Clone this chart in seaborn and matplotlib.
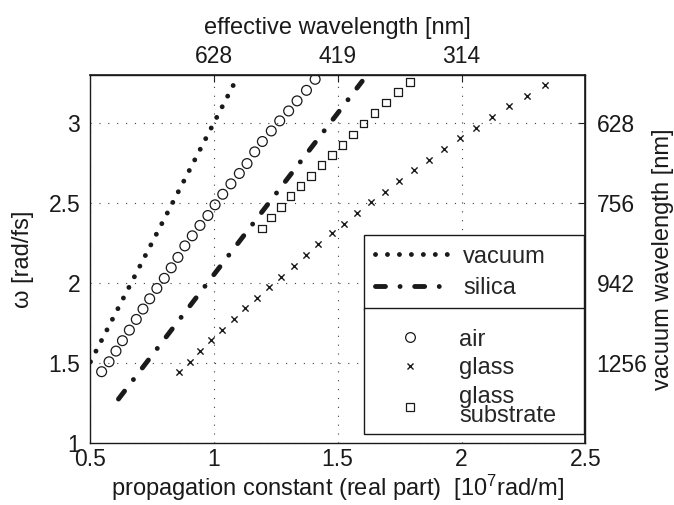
import matplotlib
matplotlib.use("Agg")
import matplotlib.pyplot as plt
import seaborn as sns
from matplotlib.lines import Line2D

# ---------------- data ----------------
vac_beta = [0.502, 1.085]
vac_omega = [1.506, 3.255]

sil_beta = [0.615, 1.599]
sil_omega = [1.273, 3.261]

air_beta = [0.547, 0.577, 0.605, 0.631, 0.659, 0.687, 0.714, 0.741, 0.770, 0.800,
            0.828, 0.855, 0.883, 0.913, 0.944, 0.976, 1.005, 1.036, 1.069, 1.103,
            1.134, 1.165, 1.196, 1.232, 1.266, 1.302, 1.336, 1.374, 1.409]
air_omega = [1.444, 1.506, 1.573, 1.638, 1.704, 1.771, 1.836, 1.900, 1.965, 2.028,
             2.094, 2.159, 2.231, 2.294, 2.359, 2.421, 2.488, 2.554, 2.619, 2.684,
             2.746, 2.819, 2.884, 2.950, 3.013, 3.075, 3.138, 3.204, 3.273]

glass_beta = [0.859, 0.902, 0.946, 0.990, 1.035, 1.080, 1.127, 1.173, 1.222, 1.270,
              1.323, 1.371, 1.422, 1.476, 1.526, 1.580, 1.635, 1.692, 1.749, 1.808,
              1.867, 1.929, 1.992, 2.058, 2.123, 2.191, 2.263, 2.336]
glass_omega = [1.444, 1.506, 1.573, 1.640, 1.706, 1.771, 1.840, 1.906, 1.971, 2.038,
               2.104, 2.172, 2.242, 2.309, 2.371, 2.438, 2.503, 2.569, 2.636, 2.704,
               2.771, 2.836, 2.903, 2.969, 3.038, 3.104, 3.169, 3.236]

sub_beta = [1.195, 1.232, 1.272, 1.310, 1.350, 1.392, 1.435, 1.476, 1.519, 1.561,
            1.604, 1.648, 1.695, 1.743, 1.792]
sub_omega = [2.340, 2.409, 2.475, 2.542, 2.606, 2.669, 2.736, 2.798, 2.861, 2.928,
             2.996, 3.063, 3.128, 3.194, 3.256]

x_ticks = [0.5, 1.0, 1.5, 2.0, 2.5]
x_ticklabels = ["0.5", "1", "1.5", "2", "2.5"]
y_ticks = [1.0, 1.5, 2.0, 2.5, 3.0]
y_ticklabels = ["1", "1.5", "2", "2.5", "3"]
top_ticks = [1.0, 1.5, 2.0]
top_labels = ["628", "419", "314"]
right_ticks = [3.0, 2.5, 2.0, 1.5]
right_labels = ["628", "756", "942", "1256"]

# ---------------- style ----------------
sns.set_theme(style="white")
plt.rcParams["font.family"] = ["Liberation Sans", "DejaVu Sans"]
plt.rcParams["mathtext.fontset"] = "custom"
plt.rcParams["mathtext.rm"] = "Liberation Sans"
plt.rcParams["mathtext.it"] = "Liberation Sans:italic"
plt.rcParams["mathtext.bf"] = "Liberation Sans:bold"

TICK_FS = 16.5
LABEL_FS = 17
LEG_FS = 17

fig = plt.figure(figsize=(6.74, 5.05), dpi=100)
ax = fig.add_axes([0.1335, 0.1234, 0.735, 0.7281])

vac_style = dict(color="k", lw=3.5, linestyle=(0, (0.01, 2.45)), dash_capstyle="round")
sil_style = dict(color="k", lw=3.5, linestyle=(0, (2.05, 3.0, 0.01, 3.0)), dash_capstyle="round")

sns.lineplot(x=vac_beta, y=vac_omega, ax=ax, estimator=None, sort=False, legend=False, **vac_style)
sns.lineplot(x=sil_beta, y=sil_omega, ax=ax, estimator=None, sort=False, legend=False, **sil_style)

sns.scatterplot(x=air_beta, y=air_omega, ax=ax, marker="o", s=50,
                facecolor="none", edgecolor="k", linewidth=0.9, legend=False, zorder=3)
sns.scatterplot(x=glass_beta, y=glass_omega, ax=ax, marker="x", s=20,
                color="k", linewidth=1.0, legend=False, zorder=3)
sns.scatterplot(x=sub_beta, y=sub_omega, ax=ax, marker="s", s=30,
                facecolor="none", edgecolor="k", linewidth=0.9, legend=False, zorder=3)

ax.set_xlim(0.5, 2.5)
ax.set_ylim(1.0, 3.3)
ax.set_xticks(x_ticks, labels=x_ticklabels)
ax.set_yticks(y_ticks, labels=y_ticklabels)
ax.tick_params(axis="x", direction="in", length=5, width=0.8, color="k", labelsize=TICK_FS,
               labelcolor="k", pad=4)
ax.tick_params(axis="y", direction="in", length=5, width=0.8, color="k", labelsize=TICK_FS,
               labelcolor="k", pad=7)
ax.grid(True, linestyle=(0, (1, 7)), color="0.25", linewidth=0.8)
for sp in ax.spines.values():
    sp.set_color("k")
    sp.set_linewidth(1.0)

ax.set_xlabel(r"propagation constant (real part)  [10$^7$rad/m]", fontsize=LABEL_FS,
              color="k", labelpad=1)
ax.set_ylabel("ω [rad/fs]", fontsize=LABEL_FS, color="k", labelpad=10)

secx = ax.secondary_xaxis("top")
secx.set_xticks(top_ticks, labels=top_labels)
secx.tick_params(direction="in", length=5, width=0.8, color="k", labelsize=TICK_FS,
                 labelcolor="k", pad=5)
secx.set_xlabel("effective wavelength [nm]", fontsize=LABEL_FS, color="k", labelpad=8)

secy = ax.secondary_yaxis("right")
secy.set_yticks(right_ticks, labels=right_labels)
secy.tick_params(direction="in", length=5, width=0.8, color="k", labelsize=TICK_FS,
                 labelcolor="k", pad=8)
secy.set_ylabel("vacuum wavelength [nm]", fontsize=LABEL_FS, color="k", labelpad=3)

# ---------------- legends ----------------
h_vac = Line2D([], [], **vac_style)
h_sil = Line2D([], [], **sil_style)
h_air = Line2D([], [], ls="none", marker="o", ms=7, mfc="none", mec="k", mew=0.9)
h_glass = Line2D([], [], ls="none", marker="x", ms=5, color="k", mew=1.0)
h_sub = Line2D([], [], ls="none", marker="s", ms=6, mfc="none", mec="k", mew=0.9)

common = dict(mode="expand", frameon=True, fancybox=False, edgecolor="k",
              framealpha=1, borderaxespad=0, handlelength=3.3, handletextpad=0.45,
              fontsize=LEG_FS)
leg1 = ax.legend([h_vac, h_sil], ["vacuum", "silica"], loc="upper left",
                 bbox_to_anchor=(0.5535, 0.0, 0.443, 0.565),
                 borderpad=0.45, labelspacing=0.4, **common)
leg1.get_frame().set_linewidth(1.0)
ax.add_artist(leg1)
leg2 = ax.legend([h_air, h_glass, h_sub], ["air", "glass", "glass\nsubstrate"],
                 loc="lower left", bbox_to_anchor=(0.5535, 0.0237, 0.443, 0.5),
                 borderpad=0.28, labelspacing=0.28, title=" ", title_fontsize=5,
                 **common)
leg2.get_frame().set_linewidth(1.0)
for t in leg2.get_texts():
    t.set_linespacing(0.85)

fig.savefig("out.png", dpi=100)
